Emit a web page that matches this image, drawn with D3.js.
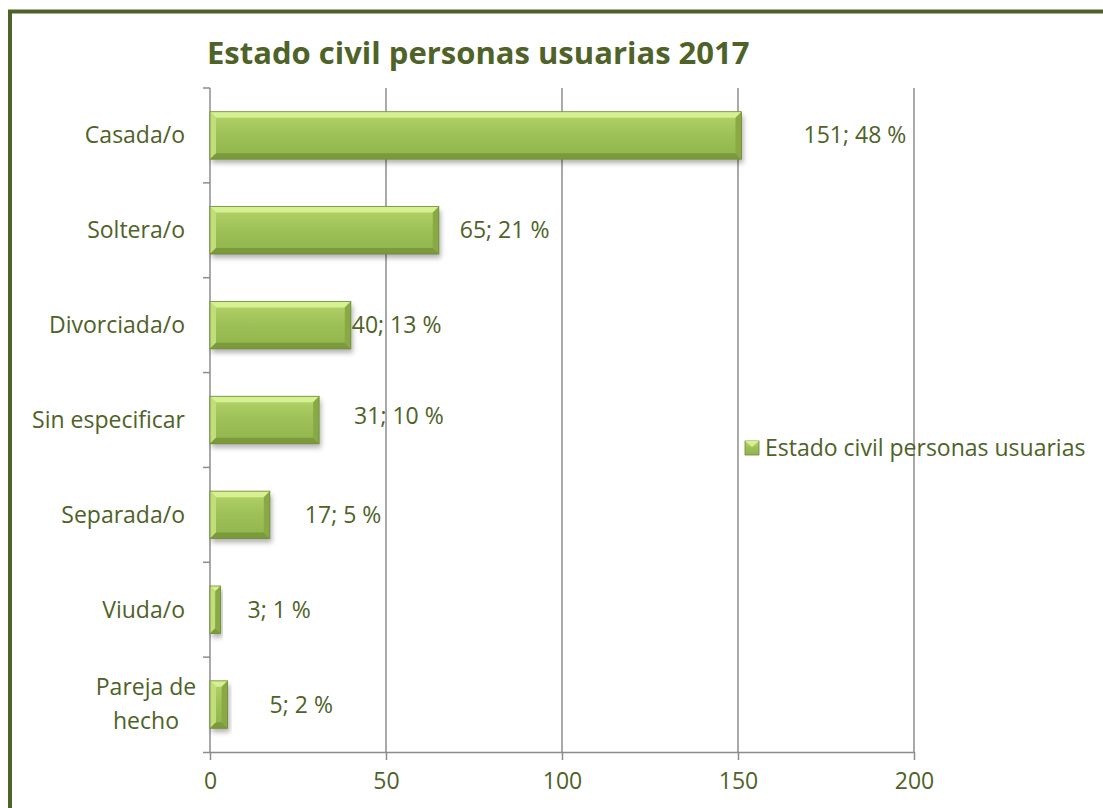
<!DOCTYPE html>
<html>
<head>
<meta charset="utf-8">
<script src="https://cdn.jsdelivr.net/npm/d3@7"></script>
<style>
  body { margin: 0; background: #fff; }
  svg { display: block; font-family: "Open Sans", "Liberation Sans", sans-serif; }
</style>
</head>
<body>
<div id="chart"></div>
<script>
// Estado civil personas usuarias 2017 - horizontal bar chart

// data
const categories = ["Casada/o", "Soltera/o", "Divorciada/o", "Sin especificar", "Separada/o", "Viuda/o", "Pareja de hecho"];
const values = [151, 65, 40, 31, 17, 3, 5];
const percents = [48, 21, 13, 10, 5, 1, 2];
const xTicks = [0, 50, 100, 150, 200];

const TITLE = "Estado civil personas usuarias 2017";
const SERIES_NAME = "Estado civil personas usuarias";

// label nudges (px from bar end), the original has hand placed labels
const labelDx = [62, 21, 1, 35, 35, 27, 42];
const labelDy = [0, 0, 0, -4, 0, 0, 0];

const W = 1103, H = 808;
const TEXT = "#4f6228";
const GRID = "#8c8c8c";
const FS = 23;

const margin = {top: 88, right: 189, bottom: 56, left: 210};
const width = W - margin.left - margin.right;   // 704
const height = H - margin.top - margin.bottom;  // 664

const svg = d3.select("#chart").append("svg")
    .attr("width", W)
    .attr("height", H);

// bar shading
const defs = svg.append("defs");
const grad = defs.append("linearGradient")
    .attr("id", "barFace")
    .attr("x1", 0).attr("y1", 0).attr("x2", 0).attr("y2", 1);
grad.append("stop").attr("offset", "0%").attr("stop-color", "#b6d56c");
grad.append("stop").attr("offset", "45%").attr("stop-color", "#9fc157");
grad.append("stop").attr("offset", "100%").attr("stop-color", "#90b34c");

const shadow = defs.append("filter").attr("id", "shadow")
    .attr("x", "-10%").attr("y", "-20%").attr("width", "130%").attr("height", "160%");
shadow.append("feDropShadow")
    .attr("dx", 2).attr("dy", 4).attr("stdDeviation", 2.5)
    .attr("flood-color", "#000").attr("flood-opacity", 0.3);

// outer frame
svg.append("rect")
    .attr("x", 10).attr("y", 11.5)
    .attr("width", W + 20).attr("height", H + 20)
    .attr("fill", "none")
    .attr("stroke", "#4f6228")
    .attr("stroke-width", 4);

// title
svg.append("text")
    .attr("x", 207).attr("y", 64)
    .attr("fill", TEXT)
    .attr("font-size", 31)
    .attr("font-weight", "bold")
    .text(TITLE);

const g = svg.append("g")
    .attr("transform", `translate(${margin.left},${margin.top})`);

// scales
const x = d3.scaleLinear().domain([0, 200]).range([0, width]);
const y = d3.scaleBand().domain(categories).range([0, height]).paddingInner(0.5).paddingOuter(0.25);

// vertical gridlines
g.selectAll(".grid")
    .data(xTicks.slice(1))
    .join("line")
    .attr("x1", d => x(d)).attr("x2", d => x(d))
    .attr("y1", 0).attr("y2", height)
    .attr("stroke", GRID)
    .attr("stroke-width", 1.5);

// x axis
const xAxis = g.append("g")
    .attr("transform", `translate(0,${height})`)
    .call(d3.axisBottom(x).tickValues(xTicks).tickSize(8).tickPadding(13).tickSizeOuter(0));
xAxis.select(".domain").attr("stroke", GRID).attr("stroke-width", 1.5)
    .attr("d", `M-7,0.5H${width}`);
xAxis.selectAll(".tick line").attr("stroke", GRID).attr("stroke-width", 1.5);
xAxis.selectAll("text").attr("fill", TEXT).attr("font-size", FS)
    .attr("font-family", "'Open Sans', sans-serif");

// y axis (ticks between categories)
const bandStep = height / categories.length;
g.append("line")
    .attr("x1", 0).attr("x2", 0).attr("y1", 0).attr("y2", height)
    .attr("stroke", GRID).attr("stroke-width", 1.5);
g.selectAll(".ytick")
    .data(d3.range(categories.length))
    .join("line")
    .attr("x1", -7).attr("x2", 0)
    .attr("y1", i => i * bandStep).attr("y2", i => i * bandStep)
    .attr("stroke", GRID).attr("stroke-width", 1.5);

// category labels
g.selectAll(".cat")
    .data(categories)
    .join("text")
    .attr("fill", TEXT)
    .attr("font-size", FS)
    .attr("text-anchor", "end")
    .attr("x", -25)
    .attr("y", d => y(d) + y.bandwidth() / 2)
    .each(function(d) {
        const t = d3.select(this);
        if (d === "Pareja de hecho") {
            t.attr("text-anchor", "middle").attr("x", -64);
            t.append("tspan").attr("x", -64).attr("dy", "-0.4em").text("Pareja de");
            t.append("tspan").attr("x", -64).attr("dy", "1.45em").text("hecho");
        } else {
            t.attr("dy", "0.35em").text(d);
        }
    });

// bars
const bev = 6;
const bars = g.selectAll(".bar")
    .data(categories)
    .join("g")
    .attr("transform", d => `translate(0,${y(d)})`);

bars.each(function(d, i) {
    const b = d3.select(this);
    const w = x(values[i]);
    const h = y.bandwidth();
    const e = Math.min(bev, w / 2);
    b.append("rect")
        .attr("width", w).attr("height", h)
        .attr("fill", "url(#barFace)")
        .attr("filter", "url(#shadow)");
    // top bevel
    b.append("path").attr("d", `M0,0H${w}L${w - e},${e}H${e}Z`).attr("fill", "#d6f192");
    // left bevel
    b.append("path").attr("d", `M0,0L${e},${e}V${h - e}L0,${h}Z`).attr("fill", "#c1de7b");
    // bottom bevel
    b.append("path").attr("d", `M0,${h}H${w}L${w - e},${h - e}H${e}Z`).attr("fill", "#7a9a3b");
    // right bevel
    b.append("path").attr("d", `M${w},0V${h}L${w - e},${h - e}V${e}Z`).attr("fill", "#88a944");
    b.append("rect")
        .attr("width", w).attr("height", h)
        .attr("fill", "none")
        .attr("stroke", "#6d8a33").attr("stroke-width", 0.8);
});

// value labels
g.selectAll(".val")
    .data(categories)
    .join("text")
    .attr("fill", TEXT)
    .attr("font-size", FS)
    .attr("x", (d, i) => x(values[i]) + labelDx[i])
    .attr("y", (d, i) => y(d) + y.bandwidth() / 2 + labelDy[i])
    .attr("dy", "0.35em")
    .text((d, i) => `${values[i]}; ${percents[i]} %`);

// legend
const leg = svg.append("g").attr("transform", "translate(745,441)");
leg.append("rect").attr("width", 14).attr("height", 14).attr("fill", "url(#barFace)")
    .attr("stroke", "#6d8a33").attr("stroke-width", 0.8);
leg.append("path").attr("d", "M0,0H14L7,6Z").attr("fill", "#d6f192");
leg.append("text")
    .attr("x", 20).attr("y", 7).attr("dy", "0.35em")
    .attr("fill", TEXT).attr("font-size", FS)
    .text(SERIES_NAME);
</script>
</body>
</html>
